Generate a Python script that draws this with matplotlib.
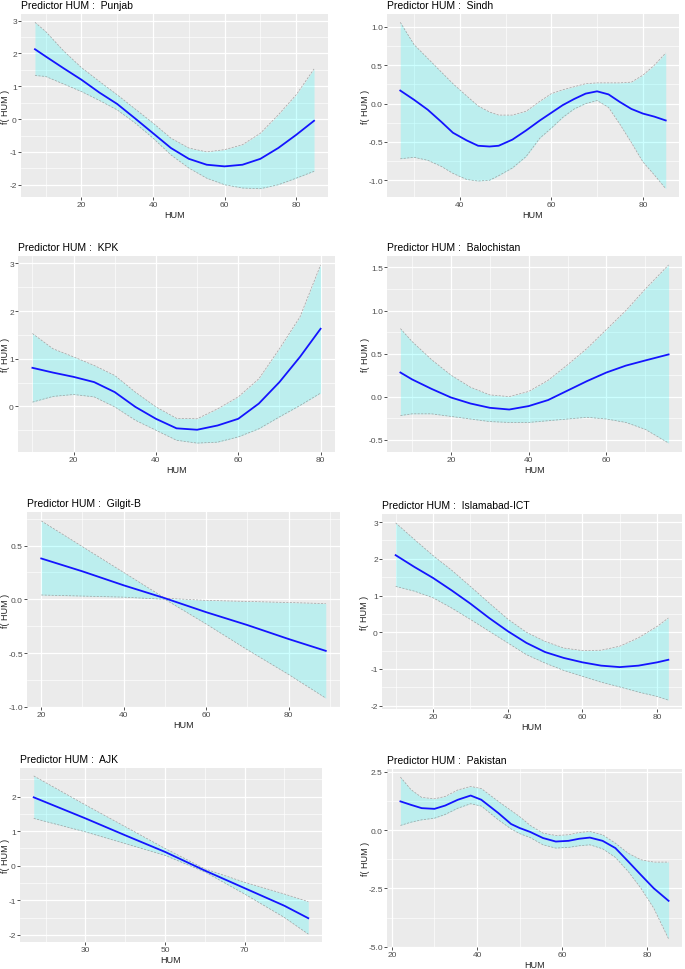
import numpy as np
import matplotlib.pyplot as plt
from matplotlib.ticker import FormatStrFormatter

plt.rcParams['font.family'] = ['Liberation Sans', 'DejaVu Sans']

# partial effect of HUM per region: fit, lower and upper bands
punjab_hum = [7, 10, 15, 20, 25, 30, 35, 40, 45, 50, 55, 60, 65, 70, 75, 80, 85]
punjab_fit = [2.13, 1.91, 1.55, 1.20, 0.81, 0.46, 0.02, -0.43, -0.88, -1.21, -1.39, -1.44, -1.39, -1.21, -0.88, -0.48, -0.05]
punjab_hi = [2.95, 2.67, 2.08, 1.57, 1.15, 0.74, 0.31, -0.12, -0.58, -0.88, -1.0, -0.93, -0.78, -0.43, 0.13, 0.74, 1.53]
punjab_lo = [1.33, 1.30, 1.07, 0.84, 0.57, 0.28, -0.12, -0.58, -1.09, -1.49, -1.80, -2.0, -2.1, -2.12, -2.0, -1.80, -1.59]

sindh_hum = [27, 30, 33, 36, 38.5, 41.5, 44, 46.5, 48.5, 51.5, 54.5, 57.5, 60, 62.5, 65, 67.5, 70, 72.5, 75, 77.5, 80, 82.5, 85]
sindh_fit = [0.17, 0.05, -0.08, -0.24, -0.38, -0.48, -0.55, -0.56, -0.55, -0.47, -0.35, -0.22, -0.12, -0.02, 0.06, 0.13, 0.16, 0.12, 0.02, -0.07, -0.13, -0.17, -0.22]
sindh_hi = [1.06, 0.77, 0.59, 0.41, 0.26, 0.10, -0.03, -0.11, -0.15, -0.15, -0.10, 0.03, 0.13, 0.18, 0.22, 0.26, 0.27, 0.27, 0.27, 0.28, 0.37, 0.50, 0.66]
sindh_lo = [-0.72, -0.70, -0.74, -0.82, -0.91, -0.99, -1.01, -1.0, -0.94, -0.84, -0.69, -0.45, -0.32, -0.18, -0.07, 0.0, 0.04, -0.05, -0.27, -0.51, -0.76, -0.93, -1.11]

kpk_hum = [10, 15, 20, 25, 30, 35, 40, 45, 50, 55, 60, 65, 70, 75, 80]
kpk_fit = [0.81, 0.71, 0.62, 0.51, 0.30, -0.01, -0.26, -0.46, -0.49, -0.40, -0.26, 0.06, 0.51, 1.04, 1.63]
kpk_hi = [1.53, 1.21, 1.04, 0.86, 0.65, 0.30, -0.01, -0.25, -0.26, -0.05, 0.20, 0.58, 1.21, 1.88, 2.97]
kpk_lo = [0.09, 0.21, 0.25, 0.20, -0.01, -0.29, -0.50, -0.71, -0.77, -0.75, -0.64, -0.47, -0.22, 0.02, 0.28]

balo_hum = [7, 10, 15, 20, 25, 30, 35, 40, 45, 50, 55, 60, 65, 70, 76]
balo_fit = [0.28, 0.20, 0.09, -0.01, -0.08, -0.13, -0.15, -0.11, -0.04, 0.07, 0.18, 0.28, 0.36, 0.42, 0.49]
balo_hi = [0.79, 0.64, 0.43, 0.25, 0.11, 0.02, 0.0, 0.06, 0.19, 0.37, 0.56, 0.78, 1.0, 1.25, 1.53]
balo_lo = [-0.22, -0.20, -0.20, -0.23, -0.26, -0.29, -0.30, -0.30, -0.28, -0.26, -0.24, -0.26, -0.30, -0.38, -0.54]

gilgit_hum = [20, 30, 40, 50, 60, 70, 80, 89]
gilgit_fit = [0.38, 0.26, 0.13, 0.01, -0.12, -0.24, -0.37, -0.48]
gilgit_hi = [0.73, 0.49, 0.25, 0.01, -0.01, -0.02, -0.03, -0.04]
gilgit_lo = [0.04, 0.03, 0.02, 0.0, -0.23, -0.47, -0.70, -0.92]

ict_hum = [10, 15, 20, 25, 30, 35, 40, 45, 50, 55, 60, 65, 70, 75, 80, 83]
ict_fit = [2.10, 1.78, 1.48, 1.14, 0.78, 0.39, 0.03, -0.29, -0.54, -0.70, -0.82, -0.91, -0.95, -0.91, -0.82, -0.75]
ict_hi = [2.98, 2.53, 2.09, 1.69, 1.25, 0.80, 0.36, 0.0, -0.25, -0.43, -0.50, -0.49, -0.38, -0.15, 0.16, 0.39]
ict_lo = [1.25, 1.12, 0.94, 0.66, 0.35, 0.03, -0.29, -0.61, -0.84, -1.04, -1.20, -1.36, -1.49, -1.63, -1.75, -1.85]

ajk_hum = [17, 30, 40, 50, 60, 70, 80, 86]
ajk_fit = [1.98, 1.37, 0.88, 0.40, -0.14, -0.65, -1.16, -1.52]
ajk_hi = [2.60, 1.76, 1.13, 0.50, -0.09, -0.48, -0.82, -1.04]
ajk_lo = [1.37, 0.98, 0.64, 0.30, -0.18, -0.82, -1.50, -1.98]

pak_hum = [22, 24.5, 27, 30, 32.5, 35.5, 38.5, 41, 45, 48, 50, 52.5, 55.5, 58.5, 61.5, 64, 66.5, 69.5, 72.5, 75.5, 78.5, 81.5, 85]
pak_fit = [1.23, 1.08, 0.94, 0.91, 1.05, 1.30, 1.48, 1.30, 0.73, 0.26, 0.09, -0.08, -0.34, -0.49, -0.46, -0.37, -0.32, -0.46, -0.77, -1.34, -1.92, -2.49, -3.03]
pak_hi = [2.27, 1.73, 1.40, 1.34, 1.44, 1.72, 1.87, 1.78, 1.23, 0.84, 0.58, 0.20, -0.13, -0.23, -0.20, -0.10, -0.06, -0.20, -0.56, -0.99, -1.27, -1.37, -1.37]
pak_lo = [0.20, 0.34, 0.44, 0.51, 0.67, 0.94, 1.13, 1.03, 0.44, 0.05, -0.15, -0.32, -0.63, -0.77, -0.74, -0.67, -0.63, -0.80, -1.17, -1.77, -2.49, -3.34, -4.66]

regions = ["Punjab", "Sindh", "KPK", "Balochistan", "Gilgit-B", "Islamabad-ICT", "AJK", "Pakistan"]

x_ticks = [[20, 40, 60, 80], [40, 60, 80], [20, 40, 60, 80], [20, 40, 60],
           [20, 40, 60, 80], [20, 40, 60, 80], [30, 50, 70], [20, 40, 60, 80]]
y_ticks = [[-2, -1, 0, 1, 2, 3], [-1.0, -0.5, 0.0, 0.5, 1.0], [0, 1, 2, 3], [-0.5, 0.0, 0.5, 1.0, 1.5],
           [-1.0, -0.5, 0.0, 0.5], [-2, -1, 0, 1, 2, 3], [-2, -1, 0, 1, 2], [-5.0, -2.5, 0.0, 2.5]]
y_fmt = ['%d', '%.1f', '%d', '%.1f', '%.1f', '%d', '%d', '%.1f']

series = [
    (punjab_hum, punjab_fit, punjab_lo, punjab_hi),
    (sindh_hum, sindh_fit, sindh_lo, sindh_hi),
    (kpk_hum, kpk_fit, kpk_lo, kpk_hi),
    (balo_hum, balo_fit, balo_lo, balo_hi),
    (gilgit_hum, gilgit_fit, gilgit_lo, gilgit_hi),
    (ict_hum, ict_fit, ict_lo, ict_hi),
    (ajk_hum, ajk_fit, ajk_lo, ajk_hi),
    (pak_hum, pak_fit, pak_lo, pak_hi),
]

# panel boxes in pixels: left, top, right, bottom
boxes = [(21, 15, 328, 198), (387, 15, 679, 198),
         (18, 257, 335, 453), (387, 257, 682, 453),
         (27, 513, 340, 708), (382, 515, 682, 710),
         (20, 769, 322, 943), (387, 770, 682, 948)]
# right edge of the rotated y label, in pixels
ylab_x = [10, 370, 10, 370, 10, 369, 10, 370]

W, H = 685, 970
fig = plt.figure(figsize=(W / 100, H / 100), dpi=100)


def minor_of(ticks):
    step = ticks[1] - ticks[0]
    return np.arange(ticks[0] - step * 1.5, ticks[-1] + step * 1.5, step)


for i in range(8):
    l, t, r, b = boxes[i]
    ax = fig.add_axes([l / W, 1 - b / H, (r - l) / W, (b - t) / H])
    hum, fit, lo, hi = series[i]
    ax.set_facecolor('#EBEBEB')

    ax.fill_between(hum, lo, hi, color='cyan', alpha=0.2, lw=0)
    ax.plot(hum, lo, color='#A0A0A0', lw=0.5, ls=(0, (3, 2)))
    ax.plot(hum, hi, color='#A0A0A0', lw=0.5, ls=(0, (3, 2)))
    ax.plot(hum, fit, color='#1414FF', lw=1.3)

    ax.set_xticks(x_ticks[i])
    ax.set_yticks(y_ticks[i])
    ax.set_xticks(minor_of(x_ticks[i]), minor=True)
    ax.set_yticks(minor_of(y_ticks[i]), minor=True)
    # ggplot style 5% expansion
    xr = max(hum) - min(hum)
    yr = max(hi) - min(lo)
    ax.set_xlim(min(hum) - 0.05 * xr, max(hum) + 0.05 * xr)
    ax.set_ylim(min(lo) - 0.05 * yr, max(hi) + 0.05 * yr)
    ax.yaxis.set_major_formatter(FormatStrFormatter(y_fmt[i]))

    ax.grid(which='major', color='white', lw=0.9)
    ax.grid(which='minor', color='white', lw=0.45)
    ax.set_axisbelow(True)
    for s in ax.spines.values():
        s.set_visible(False)
    ax.tick_params(which='major', length=2, width=0.6, color='#333333',
                   labelsize=6, labelcolor='#4D4D4D', pad=1)
    ax.tick_params(which='minor', length=0)

    ax.set_xlabel('HUM', fontsize=6.5, labelpad=1.5, color='#222222')
    ax.set_ylabel('f( HUM )', fontsize=6.5, color='#222222')
    ax.yaxis.set_label_coords((ylab_x[i] - l) / (r - l), 0.5)
    ax.set_title('Predictor HUM :  ' + regions[i], loc='left', fontsize=7.5, pad=4)

fig.savefig('out.png', dpi=100)
